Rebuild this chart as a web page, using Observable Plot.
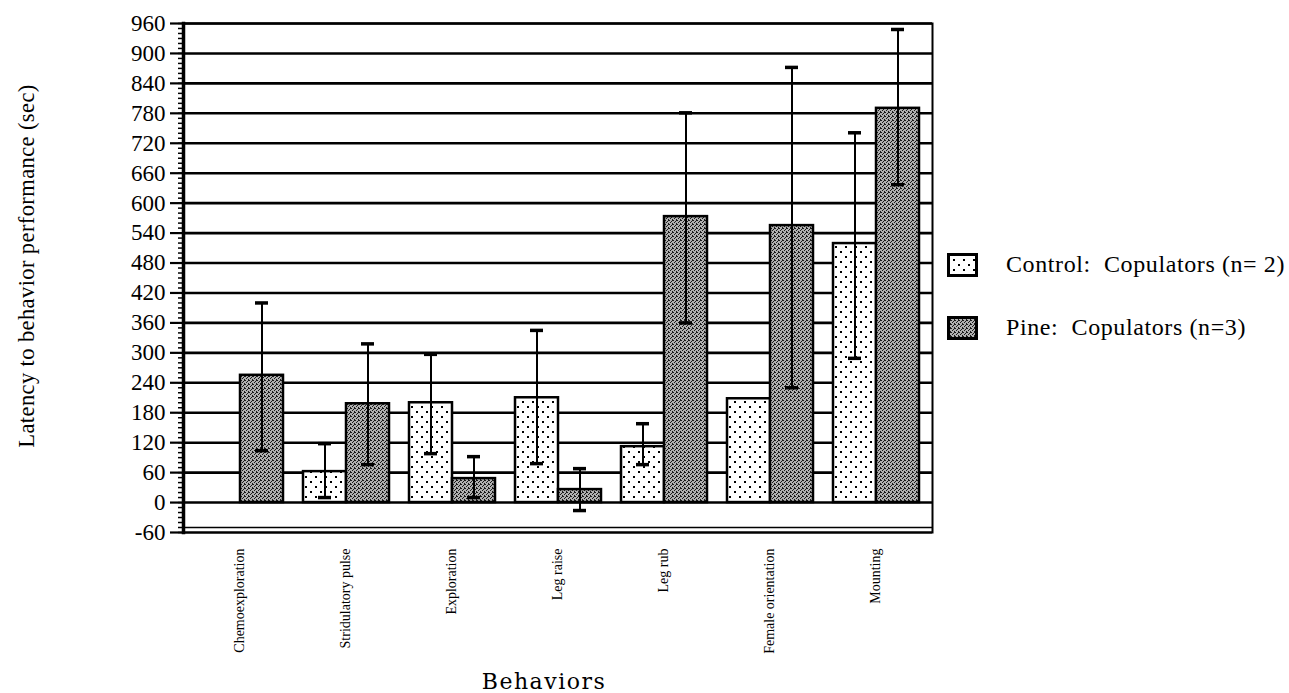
<!DOCTYPE html>
<html>
<head>
<meta charset="utf-8">
<script src="https://cdn.jsdelivr.net/npm/d3@7"></script>
<script src="https://cdn.jsdelivr.net/npm/@observablehq/plot@0.6"></script>
<style>
  html, body { margin: 0; padding: 0; background: white; }
  #wrap { position: relative; width: 1289px; height: 693px; overflow: hidden; }
  #wrap > svg { position: absolute; left: 0; top: 0; }
  .legend { position: absolute; left: 947px; font-family: "Liberation Serif", serif; font-size: 24px; letter-spacing: 0.6px; color: black; display: flex; align-items: center; white-space: pre; }
  .legend svg { margin-right: 28px; }
</style>
</head>
<body>
<div id="wrap"></div>
<script>
// ---- data ----
const behaviors = ["Chemoexploration", "Stridulatory pulse", "Exploration", "Leg raise", "Leg rub", "Female orientation", "Mounting"];
const series = ["Control", "Pine"];
const seriesLabels = ["Control:  Copulators (n= 2)", "Pine:  Copulators (n=3)"];
const controlMean = [null, 62, 200, 210, 112, 208, 519];
const controlLow  = [null, 10, 98, 78, 76, null, 289];
const controlHigh = [null, 118, 297, 345, 158, null, 741];
const pineMean = [255, 198, 48, 26, 573, 555, 790];
const pineLow  = [104, 76, 10, -16, 360, 230, 637];
const pineHigh = [400, 318, 92, 68, 781, 872, 948];
const yTicks = [-60, 0, 60, 120, 180, 240, 300, 360, 420, 480, 540, 600, 660, 720, 780, 840, 900, 960];
const yMinorTicks = d3.range(-60, 961, 10);
const gridTicks = yTicks.filter(d => d >= 0);

// ---- tables ----
const rows = [];
behaviors.forEach((b, i) => {
  rows.push({behavior: b, series: "Control", value: controlMean[i], low: controlLow[i], high: controlHigh[i]});
  rows.push({behavior: b, series: "Pine", value: pineMean[i], low: pineLow[i], high: pineHigh[i]});
});
const bars = rows.filter(d => d.value != null);
const errs = rows.filter(d => d.low != null && d.high != null);

const W = 1289, H = 693;
const M = {marginLeft: 183, marginRight: 357, marginTop: 23, marginBottom: 161};
const yScale = {domain: [-60, 960], axis: null};
const yTitle = "Latency to behavior performance (sec)";

// ---- background: grid, frame, y axis ----
const bg = Plot.plot({
  width: W, height: H, ...M,
  style: {fontFamily: "Liberation Serif, serif", fontSize: "21px", background: "white", color: "black"},
  y: yScale,
  marks: [
    Plot.ruleY(gridTicks, {stroke: "black", strokeWidth: 2.6}),
    Plot.ruleY([-60], {stroke: "black", strokeWidth: 2.2}),
    Plot.ruleY([-60], {stroke: "black", strokeWidth: 1.4, dy: -5}),
    Plot.frame({stroke: "black", strokeWidth: 2}),
    Plot.frame({anchor: "left", stroke: "black", strokeWidth: 3.5}),
    Plot.axisY(yMinorTicks, {tickSize: 5, strokeWidth: 1.5, tickFormat: () => "", label: null}),
    Plot.axisY(yTicks, {tickSize: 13, strokeWidth: 2.2, tickPadding: 5, tickFormat: d => String(d),
      label: yTitle, labelAnchor: "center", labelOffset: 165, labelArrow: "none"})
  ]
});
d3.select(bg).selectAll("text").each(function() {
  const t = this.textContent;
  if (t === yTitle) {
    d3.select(this).style("font-size", "22.5px").style("letter-spacing", "0.4px").attr("dx", "12");
  } else if (/^-?\d+$/.test(t)) {
    d3.select(this).style("font-size", "23px").style("font-family", "Liberation Serif, serif");
  }
});

// ---- foreground: bars & error bars ----
const fg = Plot.plot({
  width: W, height: H, ...M,
  style: {fontFamily: "Liberation Serif, serif", background: "transparent", color: "black", overflow: "visible"},
  fx: {domain: behaviors, paddingInner: 0.18, paddingOuter: 0.113},
  x: {domain: series, axis: null, padding: 0},
  y: yScale,
  marks: [
    Plot.barY(bars.filter(d => d.series === "Control"), {fx: "behavior", x: "series", y: "value", fill: "url(#ctrlPat)", stroke: "black", strokeWidth: 2.5}),
    Plot.barY(bars.filter(d => d.series === "Pine"), {fx: "behavior", x: "series", y: "value", fill: "url(#pinePat)", stroke: "black", strokeWidth: 2.5}),
    Plot.ruleX(errs, {fx: "behavior", x: "series", y1: "low", y2: "high", stroke: "black", strokeWidth: 2}),
    Plot.tickY(errs, {fx: "behavior", x: "series", y: "high", stroke: "black", strokeWidth: 3.5, insetLeft: 15, insetRight: 15}),
    Plot.tickY(errs, {fx: "behavior", x: "series", y: "low", stroke: "black", strokeWidth: 3.5, insetLeft: 15, insetRight: 15}),
    Plot.axisFx({anchor: "bottom", tickRotate: -90, tickSize: 0, tickPadding: 16, fontSize: 14, fontFamily: "Liberation Serif, serif", label: null}),
    Plot.axisFx({anchor: "bottom", tickSize: 0, tickFormat: () => "", label: "Behaviors", labelAnchor: "center", labelOffset: 156, labelArrow: "none", fontSize: 22, fontFamily: "DejaVu Serif, serif"})
  ]
});
d3.select(fg).selectAll("text").filter(function() { return this.textContent === "Behaviors"; })
  .style("letter-spacing", "1.5px").style("font-size", "22px").style("font-family", "DejaVu Serif, serif").attr("dx", "-14");

// patterns
const defs = d3.select(fg).insert("defs", ":first-child");
const cp = defs.append("pattern").attr("id", "ctrlPat").attr("patternUnits", "userSpaceOnUse").attr("width", 10).attr("height", 10);
cp.append("rect").attr("width", 10).attr("height", 10).attr("fill", "white");
cp.append("rect").attr("x", 1).attr("y", 1).attr("width", 2).attr("height", 2).attr("fill", "black");
cp.append("rect").attr("x", 6).attr("y", 6).attr("width", 2).attr("height", 2).attr("fill", "black");
const pp = defs.append("pattern").attr("id", "pinePat").attr("patternUnits", "userSpaceOnUse").attr("width", 4).attr("height", 4);
pp.append("rect").attr("width", 4).attr("height", 4).attr("fill", "#b0b0b0");
[[0,0],[2,1],[1,2],[3,3],[3,0]].forEach(([x, y]) => pp.append("rect").attr("x", x).attr("y", y).attr("width", 1).attr("height", 1).attr("fill", "#1a1a1a"));

const wrap = document.getElementById("wrap");
wrap.appendChild(bg);
wrap.appendChild(fg);

// legend
const pats = ["ctrlPat", "pinePat"];
const legendTops = [254, 317];
series.forEach((s, i) => {
  const div = document.createElement("div");
  div.className = "legend";
  div.style.top = (legendTops[i] - 3) + "px";
  div.innerHTML = `<svg width="31" height="24"><rect x="1.5" y="1.5" width="28" height="21" fill="url(#${pats[i]})" stroke="black" stroke-width="3"/></svg><span>${seriesLabels[i]}</span>`;
  wrap.appendChild(div);
});
</script>
</body>
</html>
